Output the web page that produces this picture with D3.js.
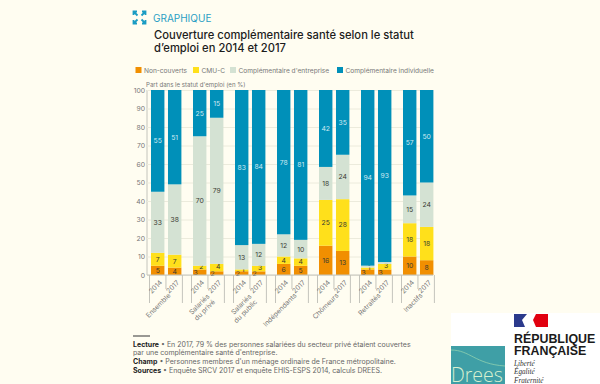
<!DOCTYPE html>
<html lang="fr">
<head>
<meta charset="utf-8">
<script src="https://cdn.jsdelivr.net/npm/d3@7"></script>
<style>
  html, body { margin: 0; padding: 0; background: #fffdf1; }
  svg { display: block; font-family: Inter, "Noto Sans", sans-serif; }
</style>
</head>
<body>
<svg id="graph" width="600" height="384"></svg>
<script>
const groups = [["Ensemble"], ["Salariés", "du privé"], ["Salariés", "du public"], ["Indépendants"], ["Chômeurs"], ["Retraités"], ["Inactifs"]];
const years = ["2014", "2017"];
const seriesNames = ["Non-couverts", "CMU-C", "Complémentaire d'entreprise", "Complémentaire individuelle"];
const seriesColors = ["#f18f01", "#ffe01b", "#d4e2d3", "#0090b9"];
// une valeur par barre, dans l'ordre groupe puis année
const nonCouverts = [5, 4, 3, 2, 2, 2, 6, 5, 16, 13, 3, 3, 10, 8];
const cmuC = [7, 7, 2, 4, 1, 3, 4, 4, 25, 28, 1, 3, 18, 18];
const entreprise = [33, 38, 70, 79, 13, 12, 12, 10, 18, 24, 1, 1, 15, 24];
const individuelle = [55, 51, 25, 15, 83, 84, 78, 81, 42, 35, 94, 93, 57, 50];
const yTicks = [0, 10, 20, 30, 40, 50, 60, 70, 80, 90, 100];

const margin = { top: 90, right: 167, bottom: 109, left: 147 };
const chartWidth = 600 - margin.left - margin.right;
const chartHeight = 384 - margin.top - margin.bottom;

const svg = d3.select("#graph");
svg.append("rect").attr("width", 600).attr("height", 384).attr("fill", "#fffdf1");

// En-tête
const icon = svg.append("g").attr("transform", "translate(139.5,17.5)")
  .attr("fill", "none").attr("stroke", "#1a9cc3").attr("stroke-width", 1.8);
[[-1, -1], [1, -1], [-1, 1], [1, 1]].forEach(([a, b]) => {
  icon.append("path").attr("d", `M${a * 2} ${b * 2}L${a * 6} ${b * 6}M${a * 6} ${b * 2.5}V${b * 6}H${a * 2.5}`);
});
svg.append("text").attr("x", 153).attr("y", 21.5).attr("font-size", 10).attr("fill", "#2a9fc4").text("GRAPHIQUE");
svg.append("text").attr("x", 154).attr("y", 39).attr("font-size", 11.2).attr("font-weight", 500).attr("fill", "#1c1c1c")
  .text("Couverture complémentaire santé selon le statut");
svg.append("text").attr("x", 154).attr("y", 51.5).attr("font-size", 11.2).attr("font-weight", 500).attr("fill", "#1c1c1c")
  .text("d’emploi en 2014 et 2017");

// Légende
const legendX = [135.5, 193, 230, 337];
const legend = svg.append("g").selectAll("g").data(seriesNames).join("g")
  .attr("transform", (d, i) => `translate(${legendX[i]},67)`);
legend.append("rect").attr("width", 6).attr("height", 6).attr("fill", (d, i) => seriesColors[i]);
legend.append("text").attr("x", 8.5).attr("y", 5.8).attr("font-size", 6.6).attr("fill", "#777").text((d) => d);
svg.append("text").attr("x", 146).attr("y", 86.5).attr("font-size", 6.1).attr("fill", "#777")
  .text("Part dans le statut d'emploi (en %)");

const chart = svg.append("g").attr("transform", `translate(${margin.left}, ${margin.top})`);

const y = d3.scaleLinear().domain([0, 100]).range([chartHeight, 0]);
const x = d3.scaleBand().domain(groups.map((d) => d.join(" "))).range([-1, 293]);
const xBar = d3.scaleBand().domain(years).range([5, 35.4]).paddingInner(0.21).paddingOuter(0);

const yAs = chart.append("g").call(d3.axisLeft(y).tickValues(yTicks).tickSize(-286).tickPadding(2));
yAs.select(".domain").attr("stroke", "#c4c4bc").attr("d", `M0,0V${chartHeight}`);
yAs.selectAll("line").attr("stroke", "#ecebdc");
yAs.selectAll("text").attr("font-size", 6.8).attr("fill", "#777").attr("font-family", "Inter");

const rows = nonCouverts.map((d, i) => ({
  group: groups[Math.floor(i / 2)].join(" "),
  year: years[i % 2],
  [seriesNames[0]]: d,
  [seriesNames[1]]: cmuC[i],
  [seriesNames[2]]: entreprise[i],
  [seriesNames[3]]: individuelle[i],
}));

// certaines colonnes font 99 ou 101 (arrondis) : on ramène à 100
const stacked = d3.stack().keys(seriesNames).offset(d3.stackOffsetExpand)(rows);

const barX = (row) => x(row.group) + xBar(row.year);
const barMid = (row) => barX(row) + xBar.bandwidth() / 2;
const isSmall = (row) => row[seriesNames[0]] + row[seriesNames[1]] <= 7;

stacked.forEach((serie, s) => {
  chart.append("g").selectAll("rect").data(serie).join("rect")
    .attr("x", (d) => barX(d.data))
    .attr("width", xBar.bandwidth())
    .attr("y", (d) => y(d[1] * 100))
    .attr("height", (d) => y(d[0] * 100) - y(d[1] * 100))
    .attr("fill", seriesColors[s]);

  chart.append("g").selectAll("text").data(serie).join("text")
    .attr("x", (d) => {
      if (s === 0 && isSmall(d.data)) return barMid(d.data) - 4;
      if (s === 1 && isSmall(d.data)) return barMid(d.data) + 1.5;
      if (s === 2 && d.data[seriesNames[2]] < 3) return barMid(d.data) - 2;
      return barMid(d.data);
    })
    .attr("y", (d) => {
      const mid = y((d[0] + d[1]) * 50);
      if (s === 2 && d.data[seriesNames[2]] < 3) return mid - 3;
      if (s === 1 && isSmall(d.data)) return mid - 1;
      return mid;
    })
    .attr("dy", "0.36em")
    .attr("text-anchor", "middle")
    .attr("font-size", 6.8)
    .attr("fill", (d) => (s === 3 || (s === 2 && d.data[seriesNames[2]] < 3) ? "#cfeaf2" : "#3a3a32"))
    .text((d) => d.data[seriesNames[s]]);
});

// Axe du bas : traits de séparation, années, noms des statuts
const xAs = chart.append("g").attr("transform", `translate(0, ${chartHeight})`);
xAs.append("line").attr("x1", 0).attr("x2", 286).attr("stroke", "#c4c4bc");
groups.forEach((g) => {
  const key = g.join(" ");
  const left = x(key) + xBar(years[0]) - 1.5;
  const right = x(key) + xBar(years[1]) + xBar.bandwidth() + 1;
  const mid = (left + right) / 2;
  [[left, 28], [mid, 14], [right, 28]].forEach(([px, h]) => {
    xAs.append("line").attr("x1", px).attr("x2", px).attr("y1", 0).attr("y2", h).attr("stroke", "#c4c4bc");
  });
  years.forEach((yr) => {
    const cx = x(key) + xBar(yr) + xBar.bandwidth() / 2;
    xAs.append("text").attr("text-anchor", "end").attr("font-size", 6.8).attr("fill", "#777")
      .attr("transform", `translate(${cx + 5},8) rotate(-45)`)
      .text(yr);
  });
  const label = xAs.append("text").attr("text-anchor", "end").attr("font-size", 6.8).attr("fill", "#777")
    .attr("transform", g.length > 1 ? `translate(${mid + 2},22) rotate(-45)` : `translate(${mid + 5},21) rotate(-45)`);
  g.forEach((line, i) => {
    label.append("tspan").attr("x", 0).attr("dy", i === 0 ? 0 : "1.15em").text(line);
  });
});

// Notes
svg.append("line").attr("x1", 133).attr("x2", 150).attr("y1", 336).attr("y2", 336).attr("stroke", "#555").attr("stroke-width", 1.2);
const notes = [
  ["Lecture", " • En 2017, 79 % des personnes salariées du secteur privé étaient couvertes"],
  ["", "par une complémentaire santé d'entreprise."],
  ["Champ", " • Personnes membres d'un ménage ordinaire de France métropolitaine."],
  ["Sources", " • Enquête SRCV 2017 et enquête EHIS-ESPS 2014, calculs DREES."],
];
const noteY = [346.5, 355.3, 363.8, 372.8];
notes.forEach((n, i) => {
  const t = svg.append("text").attr("x", 133).attr("y", noteY[i]).attr("font-size", 7).attr("fill", "#666");
  t.append("tspan").attr("font-weight", 700).attr("fill", "#222").text(n[0]);
  t.append("tspan").text(n[1]);
});

// Logos
svg.append("rect").attr("x", 451).attr("y", 313).attr("width", 149).attr("height", 71).attr("fill", "#fff");
svg.append("rect").attr("x", 514).attr("y", 314).attr("width", 13).attr("height", 13).attr("fill", "#2b3a8c");
svg.append("rect").attr("x", 536).attr("y", 314).attr("width", 12).attr("height", 13).attr("fill", "#e1000f");
svg.append("path").attr("d", "M527 314L522 320L525 327H531L529 320L533 314Z").attr("fill", "#fff");
svg.append("path").attr("d", "M536 314L533 320L536 327Z").attr("fill", "#e1000f");
svg.append("text").attr("x", 514).attr("y", 342.5).attr("font-size", 12.4).attr("font-weight", 700)
  .attr("font-family", "Liberation Sans").attr("fill", "#1a1a1a").text("RÉPUBLIQUE");
svg.append("text").attr("x", 514).attr("y", 355).attr("font-size", 12.4).attr("font-weight", 700)
  .attr("font-family", "Liberation Sans").attr("fill", "#1a1a1a").text("FRANÇAISE");
["Liberté", "Égalité", "Fraternité"].forEach((d, i) => {
  svg.append("text").attr("x", 514).attr("y", 366 + i * 8.3).attr("font-size", 7.2).attr("font-style", "italic")
    .attr("font-family", "Liberation Serif").attr("fill", "#333").text(d);
});
svg.append("rect").attr("x", 451).attr("y", 346).attr("width", 54).attr("height", 38).attr("fill", "#3f9fa6");
svg.append("path").attr("d", "M451 350C470 350 475 364 505 366").attr("fill", "none").attr("stroke", "#8fd0b0").attr("stroke-width", 0.8);
svg.append("text").attr("x", 451).attr("y", 382).attr("font-size", 19.5).attr("font-family", "Open Sans").attr("font-weight", 300)
  .attr("fill", "#d8f0d0").text("Drees");
</script>
</body>
</html>
